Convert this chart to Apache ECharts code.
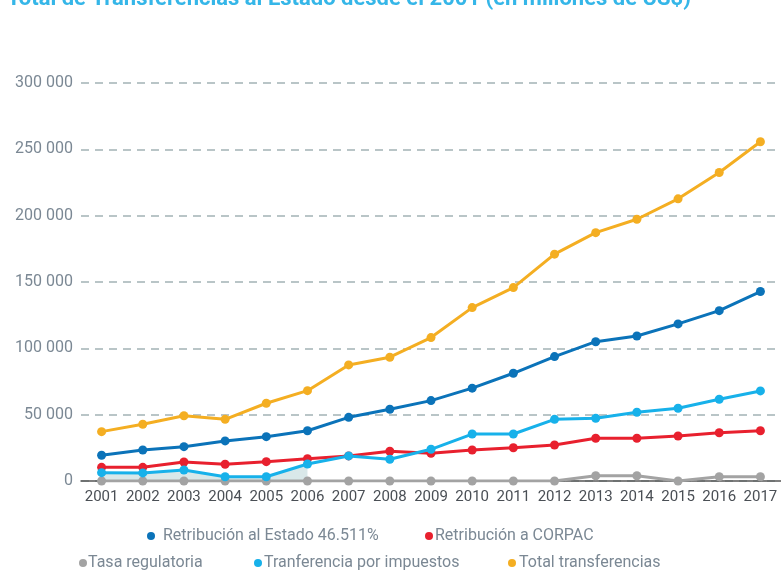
<!DOCTYPE html>
<html>
<head>
<meta charset="utf-8">
<script src="https://cdn.jsdelivr.net/npm/echarts@6/dist/echarts.min.js"></script>
<style>
html,body{margin:0;padding:0;background:#fff;}
#chart{width:781px;height:572px;}
</style>
</head>
<body>
<div id="chart"></div>
<script>
const years = ['2001','2002','2003','2004','2005','2006','2007','2008','2009','2010','2011','2012','2013','2014','2015','2016','2017'];
const retribucionEstado = [19400,23400,25900,30200,33400,37900,48000,54100,60600,70000,81200,93800,105000,109300,118400,128400,142800];
const retribucionCorpac = [10300,10300,14300,12600,14600,16800,18900,22400,20900,23400,25100,27100,32200,32200,33900,36400,37900];
const tasaRegulatoria = [0,0,0,0,0,0,0,0,0,0,0,0,4000,4000,0,3200,3200];
const transferenciaImpuestos = [6300,6100,8300,3200,3200,12800,18900,16400,23900,35400,35400,46500,47300,51800,54800,61600,67900];
const totalTransferencias = [37200,42800,49200,46500,58600,68100,87500,93300,108100,130700,145800,171000,187200,197300,212700,232500,255700];
const yTicks = [0,50000,100000,150000,200000,250000,300000];
const names = ['Retribución al Estado 46.511%','Retribución a CORPAC','Tasa regulatoria','Tranferencia por impuestos','Total transferencias'];
const colors = ['#0b73b9','#e8202e','#a3a3a3','#17b1ea','#f4ae22'];

const chart = echarts.init(document.getElementById('chart'));
const FONT = 'Roboto, "Liberation Sans", sans-serif';
function lineSeries(name, data, color, z) {
  return {
    name: name, type: 'line', data: data, z: z,
    symbol: 'circle', symbolSize: 9,
    itemStyle: {color: color},
    lineStyle: {color: color, width: 3},
    emphasis: {disabled: true}
  };
}
function legendItem(name, left, top, extraPad) {
  return {
    data: [name], left: left, top: top, padding: 0,
    icon: 'circle', itemWidth: 8, itemHeight: 8,
    textStyle: {color: '#7b8894', fontSize: 16, fontFamily: FONT, padding: [0, 0, 0, extraPad]},
    selectedMode: false
  };
}
chart.setOption({
  animation: false,
  title: {
    text: 'Total de Transferencias al Estado desde el 2001 (en millones de US$)',
    left: 7, top: -12, padding: 0,
    textStyle: {color: '#35b6e8', fontSize: 22, fontWeight: 'bold', fontFamily: FONT}
  },
  legend: [
    legendItem(names[0], 147, 528, 3),
    legendItem(names[1], 425, 528, -3),
    legendItem(names[2], 79, 555, -4),
    legendItem(names[3], 254, 555, -3),
    legendItem(names[4], 508, 555, -2)
  ],
  grid: {left: 81, right: 0, top: 83, bottom: 91, containLabel: false},
  xAxis: {
    type: 'category', data: years, boundaryGap: true,
    axisTick: {show: false},
    axisLine: {lineStyle: {color: '#555', width: 1.5}},
    axisLabel: {color: '#4a4f55', fontSize: 15, fontFamily: FONT, margin: 9, interval: 0}
  },
  yAxis: {
    type: 'value', min: 0, max: 300000, interval: 50000,
    axisLine: {show: false}, axisTick: {show: false},
    axisLabel: {
      color: '#7b8894', fontSize: 16, fontFamily: FONT, margin: 8,
      formatter: function (v) { return yTicks.indexOf(v) >= 0 ? String(v).replace(/\B(?=(\d{3})+(?!\d))/g, ' ') : ''; }
    },
    splitLine: {lineStyle: {color: '#b9c5c7', width: 2, type: [8, 6]}}
  },
  series: [
    {
      name: 'fill', type: 'line', z: 1, silent: true,
      data: transferenciaImpuestos.map(function (v, i) { return i <= 5 ? v : null; }),
      symbol: 'none', lineStyle: {width: 0}, areaStyle: {color: '#d9e8e9', opacity: 1}
    },
    lineSeries(names[2], tasaRegulatoria, colors[2], 2),
    lineSeries(names[1], retribucionCorpac, colors[1], 3),
    lineSeries(names[3], transferenciaImpuestos, colors[3], 4),
    lineSeries(names[0], retribucionEstado, colors[0], 5),
    lineSeries(names[4], totalTransferencias, colors[4], 6)
  ]
});
</script>
</body>
</html>
